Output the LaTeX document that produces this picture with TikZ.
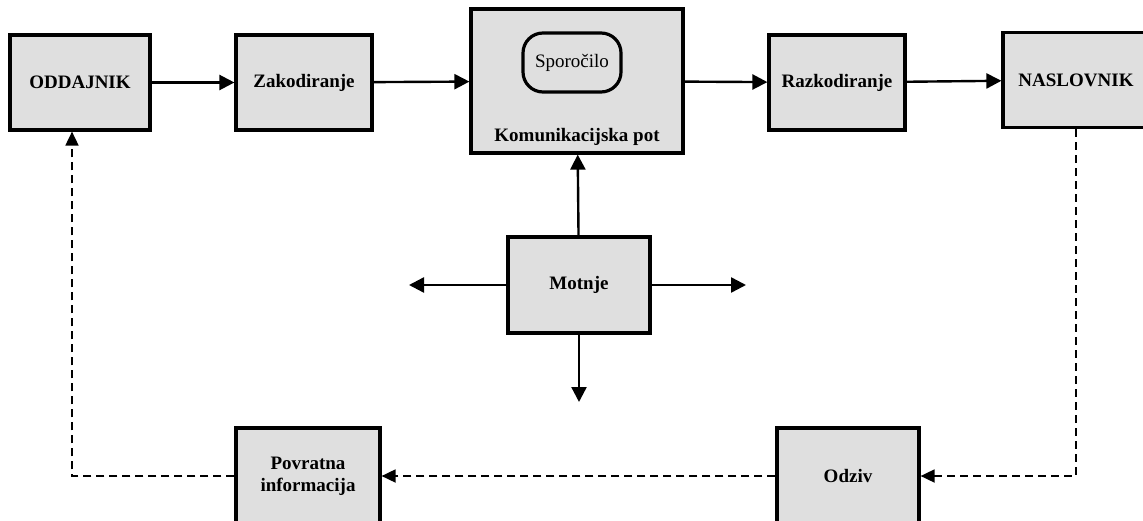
\documentclass[tikz,border=0pt]{standalone}
\usepackage{fontspec}
\setmainfont{Liberation Serif}
\usetikzlibrary{arrows.meta}

\tikzset{
  blok/.style={draw, line width=1.6pt, fill=gray!25, minimum height=47.5pt,
    font=\fontsize{9.5}{11}\selectfont\bfseries, align=center},
  puscica/.style={line width=1.2pt, -{Triangle[length=7.5pt,width=7.5pt]}},
  povratno/.style={line width=0.9pt, -{Triangle[length=7pt,width=6.5pt]}, dash pattern=on 4pt off 2.5pt}
}

\begin{document}
\begin{tikzpicture}[x=0.5pt,y=0.5pt]
  \useasboundingbox (0,0) rectangle (1143,520);

  \node[blok, minimum width=70pt] (oddajnik) at (80,437.5) {ODDAJNIK};
  \node[blok, minimum width=68pt] (zakodiranje) at (304,437.5) {Zakodiranje};
  \node[blok, minimum width=106pt, minimum height=72pt] (pot) at (577,439) {};
  \node[font=\fontsize{9.5}{11}\selectfont\bfseries, anchor=south] (potnapis) at ([yshift=1pt]pot.south) {Komunikacijska pot};
  \node[draw, line width=1.6pt, rounded corners=10pt, minimum width=49pt, minimum height=29.5pt,
    font=\fontsize{9.5}{11}\selectfont] (sporocilo) at (572,457.5) {Sporočilo};
  \node[blok, minimum width=68pt] (razkodiranje) at (837,437.5) {Razkodiranje};
  \node[blok, minimum width=73pt] (naslovnik) at (1076,440) {NASLOVNIK};

  \node[blok, minimum width=71pt, minimum height=48pt] (motnje) at (579,235) {Motnje};
  \coordinate (levo) at (409,235);
  \coordinate (desno) at (746,235);
  \coordinate (dol) at (579,118);

  \node[blok, minimum width=72pt, minimum height=48pt] (povratna) at (308,44) {Povratna\\informacija};
  \node[blok, minimum width=71pt, minimum height=48pt] (odziv) at (848,44) {Odziv};

  % glavna pot
  \draw[puscica] (oddajnik) -- (zakodiranje);
  \draw[puscica] (zakodiranje) -- (pot);
  \draw[puscica] (pot) -- (razkodiranje);
  \draw[puscica] (razkodiranje) -- (naslovnik);

  % motnje
  \draw[puscica] (motnje) -- (pot);
  \draw[puscica] (motnje) -- (levo);
  \draw[puscica] (motnje) -- (desno);
  \draw[puscica] (motnje) -- (dol);

  % povratna zanka
  \draw[povratno] (naslovnik.south) |- (odziv.east);
  \draw[povratno] (odziv) -- (povratna);
  \draw[povratno] (povratna.west) -| ([xshift=-4pt]oddajnik.south);
\end{tikzpicture}
\end{document}
